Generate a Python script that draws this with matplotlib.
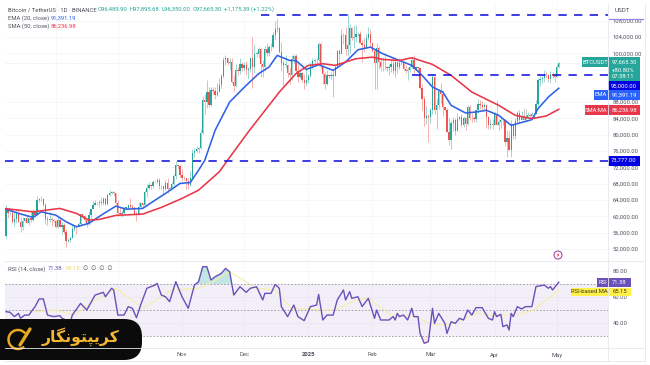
import matplotlib
matplotlib.use("Agg")
import matplotlib.pyplot as plt
from matplotlib.patches import FancyBboxPatch, Rectangle, Arc, Circle, Polygon

# ---- daily candles, Aug 7 2024 .. May 2 2025 ----
first_open = 56000
close_aug = [55100,61700,60800,60900,58700,59300,60600,58700,57500,58900,59500,58400,59500,59000,61200,60400,64000,64200,64200,62800,59400,59000,59400,59100,58900]
high_aug = [57700,62700,61800,61400,61800,60700,61700,61800,59800,59800,59700,60300,59600,61400,61800,61400,64900,64500,65000,64500,63200,60200,61100,59900,59400]
low_aug = [54500,54800,59600,60300,58400,57600,58400,58500,56100,56600,58700,58300,57800,58700,58900,59800,60300,63600,63800,62600,58100,57800,58700,57700,58600]
close_sep = [57300,59100,57500,58000,56200,53900,54100,54800,57000,57600,57300,58100,60500,60000,59200,58200,60300,61700,62900,63200,63300,63600,63300,64300,63100,65200,65800,65900,65600,63300]
high_sep = [59000,59800,59800,58500,58300,56900,54800,55300,58100,58000,58000,58600,60700,60600,60400,59200,61300,61800,63800,64100,63500,64000,64700,64700,64800,65800,66500,66300,66100,65600]
low_sep = [57200,57100,57400,55600,55600,52550,53700,53600,54600,56400,55600,57300,57600,59500,58700,57500,58000,59200,61700,62700,62800,62400,62700,62700,62700,62700,64900,65400,65100,62900]
close_oct = [60800,60600,60700,62100,62100,62800,62200,62100,60600,60300,62400,63200,62800,66000,67000,67600,67400,68400,68300,69000,67400,67400,66600,68100,66600,67000,67900,69900,72700,72300,70200]
high_oct = [64100,62400,61500,62400,62400,63000,64400,63000,62500,61300,63400,63500,63300,66500,67900,68400,67900,69000,68700,69500,69500,67800,67400,68800,69500,67300,68300,70300,73600,72700,72700]
low_oct = [60000,60000,59900,60500,61700,61800,62100,61900,60400,58900,60300,62400,62000,62700,64800,66600,66700,67000,68100,68100,66800,66600,65300,66500,65700,66400,66800,67500,69200,71500,69700]
close_nov = [69500,69300,68700,67800,69300,75600,75900,76500,76700,80400,88600,88000,90500,87400,91000,90600,89800,90500,92300,94300,98300,98900,97700,97900,93000,91900,95900,95600,97400,96400]
high_nov = [71600,69900,69400,69500,71000,76400,76800,77200,76900,81500,89500,90000,93300,91800,91800,91800,91700,92600,94000,94900,99000,99500,99000,98700,98800,94700,97400,96600,98700,97800]
low_nov = [68800,68800,66800,66800,67500,68800,74500,75600,75600,76500,80200,85000,86600,86700,87100,90100,88700,89400,90900,91500,94000,97200,97100,95800,92600,90800,91800,94700,95000,95700]
close_dec = [97200,95800,96000,98800,96600,99900,99900,101100,97300,96600,101100,100000,101400,101400,104400,106000,106100,100200,97500,97200,97200,95100,94700,98600,99400,95700,94100,95100,93500,92600,93400]
high_dec = [97800,98000,96600,99000,103900,102000,100500,101400,101200,98300,101800,102500,101900,102600,105200,107800,108350,106500,102800,98200,99500,97400,96400,99500,99900,99900,97400,95800,95400,94900,96000]
low_dec = [95700,94600,93600,95700,91500,95200,99000,98800,94200,94200,95700,99200,99200,100600,101200,103300,105300,100000,95600,92200,96400,94200,92500,93400,97600,95100,93000,94000,93000,91300,92000]
close_jan = [94400,96900,98100,98200,98300,102200,96900,95000,92400,94700,94500,94500,94500,96500,100500,99800,104400,104400,101000,102000,106100,103600,103900,104700,104700,102600,102000,101300,103700,104700,102400]
high_jan = [94900,97800,98900,98800,98800,102700,102700,97200,95300,95800,95000,95400,95900,97300,100700,100900,105800,105000,106300,109600,107200,106300,106800,107000,105300,105400,103200,103800,104800,106400,106000]
low_jan = [92800,94200,96000,97500,97300,97900,96100,92500,91200,92200,93800,93700,89300,94300,96500,97300,100300,102300,99500,99400,100100,103200,101300,102800,104100,102400,97800,100300,101300,103300,101500]
close_feb = [100600,97700,101300,97800,96600,96600,96500,96400,96500,97400,95700,97800,96600,97500,97500,96100,95700,95900,96600,98300,96100,96600,96300,91400,88700,84000,84700,84300]
high_feb = [102800,100900,102500,101700,98800,99000,100100,96900,97300,98300,98500,98100,98100,98800,97900,97700,97000,96700,97000,99000,99500,96900,96600,96500,92500,89400,87000,85100]
low_feb = [100200,91200,91200,96200,95700,95600,95800,95700,94700,95300,94900,94100,95200,96200,97200,95900,95200,93300,95500,96400,94800,95800,95700,91200,86000,82200,82700,78200]
close_mar = [86000,94200,86100,87200,90600,89900,86700,86100,80700,78600,82900,83700,81000,83900,84300,82500,84000,82700,86800,84200,84000,83800,86000,87500,87400,86900,87200,84300,82400,82600,82400]
high_mar = [86500,95000,94400,88900,91100,92800,91000,86900,86500,84000,83600,84300,84000,85300,84700,85000,84700,84400,87400,87400,85300,84500,86400,88700,88500,88300,87800,87500,84600,83900,83900]
low_mar = [83000,85000,85000,81500,86300,87800,84700,85700,80600,77500,76600,80800,79900,80800,83700,81900,82000,81100,82400,83700,83200,83200,83200,85400,86300,85900,85800,81600,81500,81300,81300]
close_apr = [85100,82500,83100,83500,83500,78200,79200,76300,82600,79600,83400,85300,83700,84500,83600,84000,84900,84500,85000,85100,87500,93400,93700,93900,94700,94600,93700,95000,94300,94200]
high_apr = [85500,88500,83900,84700,84000,83800,81200,80800,83500,82700,84200,85800,86000,85800,86500,86400,85500,85400,85600,85300,88500,93800,94500,94500,95800,95300,95000,95600,95500,95200]
low_apr = [82400,82300,81200,81700,82400,77200,74500,76200,74600,78900,78900,82800,83000,83600,83600,83100,84000,84200,84500,83900,85000,87100,91900,92800,92900,93900,92900,92800,93900,92900]
close_may = [96489,97665]
high_may = [97400,97895]
low_may = [94100,96350]

closes = close_aug+close_sep+close_oct+close_nov+close_dec+close_jan+close_feb+close_mar+close_apr+close_may
highs = high_aug+high_sep+high_oct+high_nov+high_dec+high_jan+high_feb+high_mar+high_apr+high_may
lows = low_aug+low_sep+low_oct+low_nov+low_dec+low_jan+low_feb+low_mar+low_apr+low_may
opens = [first_open]+closes[:-1]
days = list(range(len(closes)))

# ---- moving averages ----
ema_day = [0,7,14,18,25,30,35,41,47,54,59,67,73,78,85,90,94,97,102,109,117,123,128,132,138,141,146,152,159,165,171,177,183,191,197,202,207,212,216,223,228,233,239,245,255,258,263,268]
ema_val = [61940,60720,59740,61110,60300,58660,57440,58270,60300,62500,61770,61940,63970,65610,68050,68300,71300,73750,81100,88000,92100,94960,96580,99440,98200,98200,96000,97160,95770,97800,100830,101470,99850,98200,97000,94550,91690,90470,87200,85330,85570,86000,84760,82300,83700,86400,89250,91391]
sma_day = [0,14,27,35,41,46,54,67,76,86,94,104,108,118,133,141,147,154,160,170,178,183,191,197,207,216,226,239,247,255,262,268]
sma_val = [61940,61110,61940,60720,59080,59250,60230,60550,62180,64390,66420,70900,73750,80680,90460,94960,97000,97400,97000,98630,99020,98460,98200,98870,97240,94550,90460,87200,84760,83950,84600,86237]

# ---- RSI ----
rsi_day = [1,3,5,7,8,10,12,15,17,19,21,24,27,28,30,31,33,37,40,44,48,49,52,53,55,58,60,62,64,66,69,73,74,76,78,80,83,86,89,92,94,96,98,100,102,105,107,109,111,114,117,119,122,125,126,129,131,133,134,137,140,142,145,148,151,152,154,156,159,161,164,165,167,168,171,173,176,179,180,182,186,188,189,190,191,193,195,197,198,200,201,203,205,207,208,210,213,214,216,218,220,222,224,226,228,231,234,236,237,238,240,241,243,244,245,246,248,250,252,255,257,261,263,264,265,268]
rsi_val = [48.7,48.2,44.9,47.4,43.6,46.1,46.1,52.6,58.5,58.5,46.1,44.9,45.6,43.6,42.3,34.6,46.1,55.1,50,61.5,63.6,60.2,66.7,65.4,46.1,46.1,52.6,51.3,44.1,53.8,66.7,69.2,70.5,61.5,60.2,56.4,71.8,60.2,51.3,69.2,71.8,83.3,83.3,73.1,75.6,78.2,82,79.5,61.5,67.9,63.6,66.7,67.9,57.7,62.8,62.8,69.7,66.7,52.6,44.9,53.8,44.9,41.8,52.6,53.8,62,42.3,46.1,46.1,57.7,65.4,57.7,64.1,59,60.2,52.6,59,43.6,50,42.3,42.3,44.9,42.3,47.4,44.9,46.1,42.3,51.3,44.9,44.9,32,24.4,25.6,51.3,39.7,47.4,39.7,32,41,39.7,43.6,42.3,50,46.1,51.8,51.8,43.6,42.3,48.7,44.9,46.7,37.2,38.5,34.6,47.4,44.9,52.6,50.8,52.6,52.6,68,69.2,66.7,68,65.4,71.38]
rsima_day = [15,25,34,43,54,67,75,81,94,101,109,122,131,139,155,160,170,176,187,199,207,217,228,236,247,256,268]
rsima_val = [48.7,50,46.1,56.4,66.7,51.3,59,65.4,66.7,71.8,79.5,66.7,65.4,51.3,50,50,57.7,59,46.1,44.9,38.5,39.7,47.4,46.1,46.1,50,65.15]

level_top = 109300
level_mid = 94700
level_low = 73600
level_top_start = 124
level_mid_start = 197

price_ticks = [108000,104000,100000,88000,84000,80000,76000,72000,68000,64000,60000,56000,52000]
rsi_ticks = [80,60,40]
month_days = [25,55,86,116,147,178,206,237,267]
month_labels_shown = {86:"Nov",116:"Dec",147:"2025",178:"Feb",206:"Mar",237:"Apr",267:"May"}

TEAL="#26a69a"; RED="#ef5350"; EMA="#2f62e6"; SMA="#e8364a"; DASH="#1212e0"; PURPLE="#6a50b8"; TXT="#50535e"
W,H=650,365
FONT="Roboto"
plt.rcParams["font.family"]=[FONT,"DejaVu Sans"]
fig=plt.figure(figsize=(W/100,H/100),dpi=100,facecolor="white")

def box(l,t,r,b):
    return [l/W,1-b/H,(r-l)/W,(b-t)/H]

fs=4.25
ax=fig.add_axes(box(5,3,608,261))
rx=fig.add_axes(box(5,261,608,348))
px_per_day=2.07
xlim=((5-4)/px_per_day,(608-4)/px_per_day)
yk=0.00408
ax.set_ylim(108000-(261-20.5)/yk,108000+(20.5-3)/yk)
rk=1.3
rx.set_ylim(80-(348-271)/rk,80+(271-261)/rk)
for a in (ax,rx):
    a.set_xlim(*xlim)
    for s in a.spines.values(): s.set_visible(False)
    a.set_xticks(month_days)
    a.tick_params(length=0)
    a.set_xticklabels([])
    a.grid(True,color="#f5f6f9",lw=0.6)
    a.set_axisbelow(True)
    a.yaxis.tick_right()
ax.set_yticks(price_ticks)
ax.set_yticklabels([f"{v:,.2f}" for v in price_ticks],fontsize=fs,color=TXT)
ax.tick_params(axis="y",pad=3.2)
rx.set_yticks(rsi_ticks)
rx.set_yticklabels([f"{v:.2f}" for v in rsi_ticks],fontsize=fs,color=TXT)
rx.tick_params(axis="y",pad=3.2)

# candles
cols=[TEAL if c>=o else RED for o,c in zip(opens,closes)]
ax.vlines(days,lows,highs,colors=cols,lw=0.45,alpha=0.7,zorder=2)
ax.bar(days,[max(abs(c-o),90) for o,c in zip(opens,closes)],bottom=[min(o,c) for o,c in zip(opens,closes)],width=0.62,color=cols,lw=0,zorder=2.2)
ax.plot(ema_day,ema_val,color=EMA,lw=1.15,zorder=3,solid_joinstyle="round")
ax.plot(sma_day,sma_val,color=SMA,lw=1.15,zorder=3,solid_joinstyle="round")
ax.axhline(closes[-1],color="#d4e9e5",lw=0.5,ls=(0,(1,1)),zorder=1)
ds=(0,(5.2,4.6))
ax.hlines(level_top,level_top_start,xlim[1],color=DASH,lw=1.15,linestyles=[ds],zorder=4)
ax.hlines(level_mid,level_mid_start,xlim[1],color=DASH,lw=1.15,linestyles=[ds],zorder=4)
ax.hlines(level_low,xlim[0],xlim[1],color=DASH,lw=1.15,linestyles=[ds],zorder=4)

# rsi
rx.axhspan(30,70,color="#7e57c2",alpha=0.09,lw=0)
for lv in (70,50,30):
    rx.axhline(lv,color="#8a8d96",lw=0.55,ls=(0,(2.2,2.2)))
rx.fill_between(rsi_day,70,rsi_val,where=[v>70 for v in rsi_val],interpolate=True,color=TEAL,alpha=0.28,lw=0)
rx.fill_between(rsi_day,30,rsi_val,where=[v<30 for v in rsi_val],interpolate=True,color=RED,alpha=0.15,lw=0)
rx.plot(rsima_day,rsima_val,color="#f7ecA0",lw=0.7)
rx.plot(rsi_day,rsi_val,color=PURPLE,lw=1.0,solid_joinstyle="round")

# overlay in pixels
ov=fig.add_axes([0,0,1,1],zorder=10)
ov.set_xlim(0,W); ov.set_ylim(H,0); ov.axis("off"); ov.patch.set_alpha(0)
for seg in ([(608,3),(608,361)],[(645,3),(645,361)],[(5,261),(645,261)],[(5,348),(645,348)],[(5,361),(645,361)]):
    ov.plot(*zip(*seg),color="#e6e8ee",lw=0.6)

def t(x,y,s,c=TXT,ha="left",size=fs,**k):
    return ov.text(x,y,s,color=c,ha=ha,va="center",fontsize=size,**k)
t(8,9.5,"Bitcoin / TetherUS · 1D · BINANCE",c="#4a4d57")
t(98,9.5,"O96,489.90",c=TEAL); t(130,9.5,"H97,895.68",c=TEAL); t(162,9.5,"L96,350.00",c=TEAL); t(193,9.5,"C97,665.30",c=TEAL)
t(224,9.5,"+1,175.39 (+1.22%)",c=TEAL)
t(8,18,"EMA (20, close)"); t(51,18,"91,391.19",c=EMA)
t(8,26,"SMA (50, close)"); t(51,26,"86,236.98",c=SMA)
t(8,269,"RSI (14, close)"); t(48,269,"71.38",c=PURPLE); t(66,269,"65.15",c="#e8d96a"); t(83,269,"∅  ∅  ∅  ∅",c=TXT)
t(615,10.5,"USDT",size=4.5)
ov.plot([609,643],[19,19],color="#8f86e0",lw=0.9)

def tag(l,t_,r,b,col,s,tc="white",size=fs):
    ov.add_patch(Rectangle((l,t_),r-l,b-t_,color=col,lw=0))
    ov.text((l+r)/2,(t_+b)/2,s,color=tc,ha="center",va="center",fontsize=size)
tag(582,57,608,67,"#26a69a","BTCUSDT")
ov.add_patch(Rectangle((608,57),32,24,color="#26a69a",lw=0))
t(612,62,"97,665.30",c="white"); t(612,70,"+80.80%",c="white"); t(612,77,"07:38:11",c="white")
tag(608,81,640,91,"#0000e0","95,000.00")
tag(594,90,608,100,"#2962ff","EMA"); tag(608,90,640,100,"#2962ff","91,391.19")
tag(585,105,608,115,"#e8364a","SMA:MA"); tag(608,105,640,115,"#e8364a","86,236.98")
tag(608,155.5,640,165.5,"#0000e0","73,777.00")
tag(597,278,608,287,PURPLE,"RSI"); tag(608,278,631,287,PURPLE,"71.38")
tag(571,287.5,608,296,"#fff04a","RSI-based MA",tc="#3a3a20"); tag(608,287.5,631,296,"#fff04a","65.15",tc="#3a3a20")

for d,s in month_labels_shown.items():
    ov.text(4+d*px_per_day,355,s,color=TXT,ha="center",va="center",fontsize=fs,fontweight="bold" if s=="2025" else "normal")

# alert icon
ov.add_patch(Circle((558,255),4,fc="white",ec="#a0309c",lw=0.7))
ov.add_patch(Polygon([(558.8,252.5),(556.6,255.4),(558,255.4),(557.2,257.6),(559.6,254.6),(558.2,254.6)],color="#e8364a",lw=0))

# logo
ov.add_patch(FancyBboxPatch((-30,319),172,41,boxstyle="round,pad=0,rounding_size=18",fc="#0b0b0c",ec="none"))
gold="#e8a820"
ov.add_patch(Arc((18,339.5),19,19,theta1=50,theta2=320,color=gold,lw=1.8))
ov.plot([20,30],[345,329],color=gold,lw=2.4,solid_capstyle="round")
logo="\uFEAD\uFE8E\uFB95\uFEE7\uFEEE\uFE98\uFB59\uFBFE\uFEAE\uFB90"
ov.text(81,337,logo,color="#f2b632",ha="center",va="center",fontsize=11.3,fontweight="bold",family="DejaVu Sans")

fig.savefig("out.png",dpi=100,facecolor="white")
